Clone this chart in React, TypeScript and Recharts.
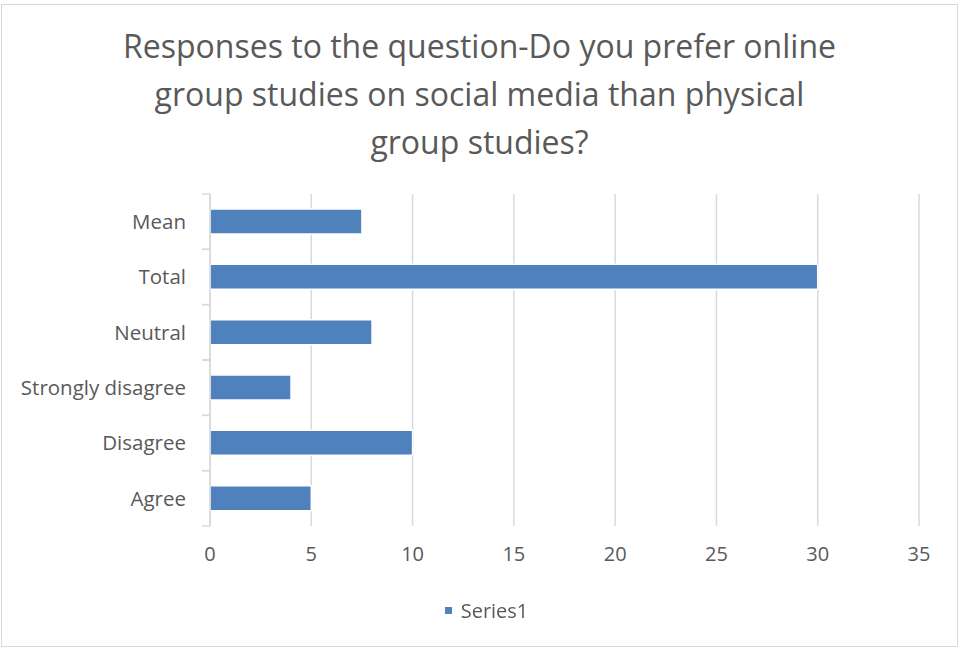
import React from "react";
import {
  BarChart,
  Bar,
  XAxis,
  YAxis,
  CartesianGrid,
} from "recharts";

// Excel order: first category is drawn at the bottom
const categories = ["Agree", "Disagree", "Strongly disagree", "Neutral", "Total", "Mean"];
const series1 = [5, 10, 4, 8, 30, 7.5];
const xTicks = [0, 5, 10, 15, 20, 25, 30, 35];
const titleLines = [
  "Responses to the question-Do you prefer online",
  "group studies on social media than physical",
  "group studies?",
];

const data = categories.map((name, i) => ({ name, Series1: series1[i] }));

const FONT = "'Open Sans', sans-serif";
const TEXT = "#595959";
const GRID = "#d9d9d9";
const BLUE = "#4f81bd";

const W = 961;
const H = 650;
const AXIS_X = 210;
const X_AXIS_H = 30;
const MARGIN = { top: 194, right: 42, bottom: 124 - X_AXIS_H, left: 0 };
const BAND = (H - 194 - 124) / categories.length;

// category label plus the small tick marks sitting on band boundaries
function CategoryTick(props: any) {
  const { y, payload } = props;
  return (
    <g>
      <line x1={AXIS_X - 8} x2={AXIS_X} y1={y - BAND / 2} y2={y - BAND / 2} stroke={GRID} strokeWidth={1.5} />
      <line x1={AXIS_X - 8} x2={AXIS_X} y1={y + BAND / 2} y2={y + BAND / 2} stroke={GRID} strokeWidth={1.5} />
      <text
        x={AXIS_X - 24}
        y={y}
        dy="0.35em"
        textAnchor="end"
        fill={TEXT}
        fontSize={20.5}
        fontFamily={FONT}
      >
        {payload.value}
      </text>
    </g>
  );
}

export default function App() {
  return (
    <div style={{ position: "fixed", left: 0, top: 0, width: W, height: H, background: "#fff" }}>
      <div
        style={{
          position: "absolute",
          left: 1,
          top: 4,
          width: 957,
          height: 643,
          border: `1.5px solid ${GRID}`,
          boxSizing: "border-box",
        }}
      />
      <div
        style={{
          position: "absolute",
          left: 0,
          top: 22,
          width: W - 2,
          textAlign: "center",
          fontFamily: FONT,
          fontSize: 32,
          lineHeight: "48px",
          color: TEXT,
        }}
      >
        {titleLines.map((t) => (
          <div key={t}>{t}</div>
        ))}
      </div>
      <BarChart
        width={W}
        height={H}
        data={data}
        layout="vertical"
        margin={MARGIN}
        barSize={25}
        style={{ position: "absolute", left: 0, top: 0 }}
      >
        <CartesianGrid horizontal={false} stroke={GRID} strokeWidth={1.5} />
        <XAxis
          type="number"
          domain={[0, 35]}
          ticks={xTicks}
          height={X_AXIS_H}
          axisLine={false}
          tickLine={false}
          tickSize={0}
          tickMargin={21}
          tick={{ fill: TEXT, fontSize: 20, fontFamily: FONT }}
        />
        <YAxis
          type="category"
          dataKey="name"
          reversed
          width={AXIS_X}
          axisLine={{ stroke: GRID, strokeWidth: 1.5 }}
          tickLine={false}
          tick={<CategoryTick />}
          interval={0}
        />
        <Bar
          dataKey="Series1"
          fill={BLUE}
          stroke="#fff"
          strokeWidth={1.5}
          isAnimationActive={false}
        />
      </BarChart>
      <div
        style={{
          position: "absolute",
          left: 6,
          top: 597,
          width: W,
          display: "flex",
          alignItems: "center",
          justifyContent: "center",
          fontFamily: FONT,
          fontSize: 20,
          color: TEXT,
        }}
      >
        <span style={{ width: 7, height: 7, background: BLUE, marginRight: 9, display: "inline-block" }} />
        <span>Series1</span>
      </div>
    </div>
  );
}
